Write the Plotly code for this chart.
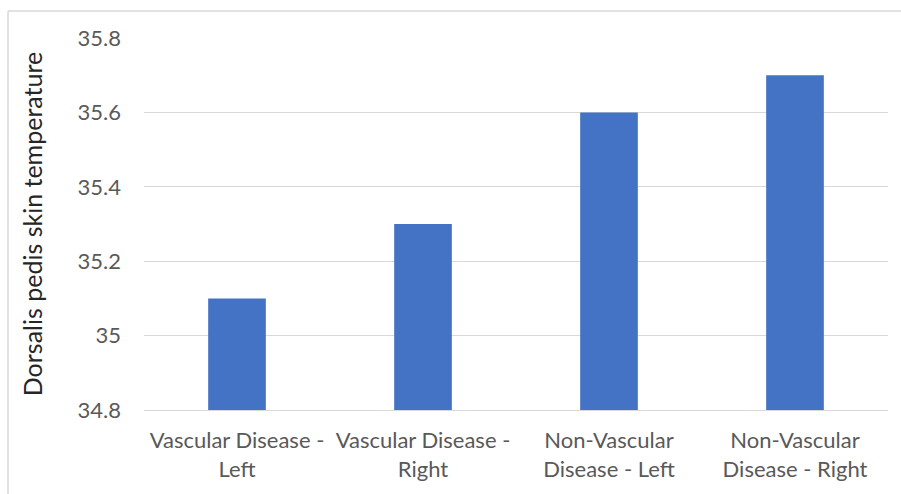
import plotly.graph_objects as go

categories = ["Vascular Disease -<br>Left", "Vascular Disease -<br>Right",
              "Non-Vascular<br>Disease - Left", "Non-Vascular<br>Disease - Right"]
temperatures = [35.1, 35.3, 35.6, 35.7]
y_ticks = [34.8, 35.0, 35.2, 35.4, 35.6, 35.8]
y_tick_labels = ["34.8", "35", "35.2", "35.4", "35.6", "35.8"]
baseline = 34.8

W, H = 901, 494
ML, MR, MT, MB = 144, 13, 38, 84
pw, ph = W - ML - MR, H - MT - MB

def px_x(x):
    return (x - ML) / pw

def px_y(y):
    return 1 + (MT - y) / ph

fig = go.Figure(go.Bar(
    x=categories, y=[t - baseline for t in temperatures], base=baseline,
    marker=dict(color="#4472C4", line=dict(width=0)),
    width=0.31,
))

fig.update_layout(
    width=W, height=H,
    margin=dict(l=ML, r=MR, t=MT, b=MB),
    paper_bgcolor="white", plot_bgcolor="white",
    font=dict(family="Lato", color="#595959", size=22),
    showlegend=False,
    xaxis=dict(showgrid=False, showline=True, linecolor="#d9d9d9", linewidth=1,
               ticks="", ticklabelstandoff=11,
               tickfont=dict(size=22, color="#595959"), automargin=False),
    yaxis=dict(range=[34.8, 35.8], tickvals=y_ticks, ticktext=y_tick_labels,
               showgrid=True, gridcolor="#d9d9d9", gridwidth=1, zeroline=False,
               showline=False, ticks="", ticklabelstandoff=22,
               tickfont=dict(size=22, color="#595959"),
               title=dict(text="Dorsalis pedis skin temperature",
                          font=dict(size=25, color="#262626"), standoff=27),
               automargin=False),
    shapes=[
        dict(type="line", xref="paper", yref="paper", x0=px_x(8), x1=px_x(8),
             y0=px_y(11), y1=px_y(H + 5), line=dict(color="#d9d9d9", width=1.5)),
        dict(type="line", xref="paper", yref="paper", x0=px_x(8), x1=px_x(W + 5),
             y0=px_y(11), y1=px_y(11), line=dict(color="#d9d9d9", width=1.5)),
    ],
)

fig.write_html("out.html")
